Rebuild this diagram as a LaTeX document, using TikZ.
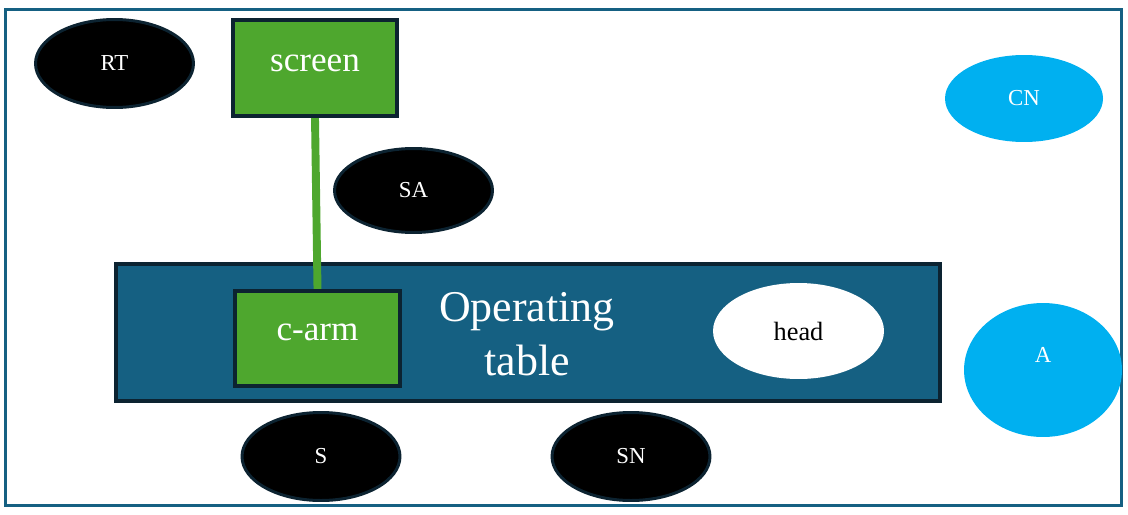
\documentclass[tikz,border=0pt]{standalone}
\usepackage{fontspec}
\setmainfont{Liberation Serif}
\usetikzlibrary{shapes.geometric}
\definecolor{framecol}{HTML}{156082}
\definecolor{rimcol}{HTML}{0C2331}
\definecolor{armgreen}{HTML}{4EA72E}
\definecolor{staffcyan}{HTML}{00B0F0}

\begin{document}
\begin{tikzpicture}[x=0.02cm,y=-0.02cm,
  pers/.style={ellipse,fill=black,draw=rimcol,line width=1.7pt,text=white,
    inner sep=0pt,minimum width=3.16cm,minimum height=1.76cm,
    font=\fontsize{13}{15}\selectfont},
  staff/.style={ellipse,fill=staffcyan,text=white,inner sep=0pt,
    minimum width=3.16cm,minimum height=1.74cm,
    font=\fontsize{13}{15}\selectfont},
  kit/.style={rectangle,fill=armgreen,draw=rimcol,line width=2.4pt,text=white,
    inner sep=0pt,font=\fontsize{20}{24}\selectfont}]
\useasboundingbox (0,0) rectangle (1128,514);
\draw[framecol,line width=1.7pt] (5.5,9.5) rectangle (1121.5,505);

% table and what lies on it
\node[rectangle,fill=framecol,draw=rimcol,line width=2.4pt,
  minimum width=16.48cm,minimum height=2.74cm] (table) at (528,332.5) {};
\node[text=white,align=center,font=\fontsize{25}{31}\selectfont]
  (tablelbl) at (527,334) {Operating\\table};
\node[ellipse,fill=white,inner sep=0pt,minimum width=3.42cm,minimum height=1.92cm,
  font=\fontsize{15}{18}\selectfont] (head) at (798.5,331) {head};
\node[kit,minimum width=3.3cm,minimum height=1.9cm,text height=14pt,text depth=11.2pt]
  (carm) at (317.5,338.5) {c-arm};
\node[kit,minimum width=3.28cm,minimum height=1.92cm,text height=16pt,text depth=11.5pt]
  (screen) at (315,68) {screen};

% people round the table
\node[pers] (rt) at (114.5,63.5) {RT};
\node[pers,minimum height=1.68cm] (sa) at (413.5,190.5) {SA};
\node[pers] (s) at (321,456.5) {S};
\node[pers] (sn) at (631,456.5) {SN};
\node[staff] (cn) at (1024,98.5) {CN};
\node[staff,minimum height=2.68cm,text height=6pt,text depth=14pt] (a) at (1043,370) {A};

\draw[armgreen,line width=4.5pt] (screen.south) -- (carm.north);
\end{tikzpicture}
\end{document}
